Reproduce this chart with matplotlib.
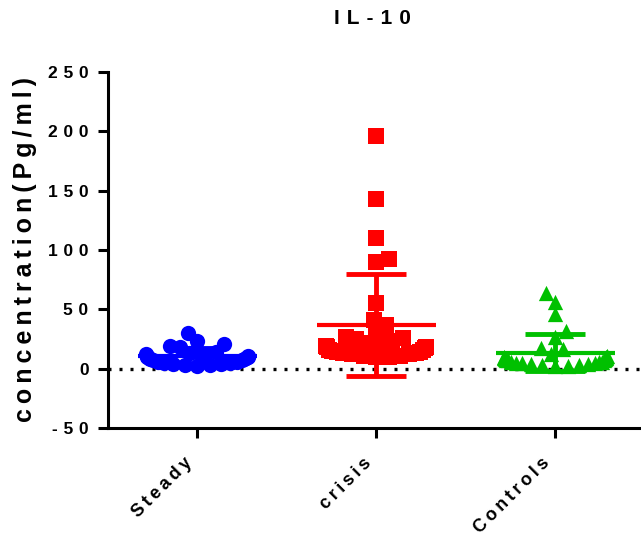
import numpy as np
import matplotlib
matplotlib.use('Agg')
import matplotlib.pyplot as plt
from matplotlib.transforms import ScaledTranslation

plt.rcParams['font.family'] = ['Liberation Sans', 'DejaVu Sans']
plt.rcParams['font.weight'] = 'bold'

groups = ['Steady', 'crisis', 'Controls']

steady = [30, 23, 21, 19, 18.5, 14, 13, 12, 12, 11, 11, 10, 10, 9, 9,
          8, 8, 7, 7, 6, 6, 5, 5, 4, 4, 3, 3, 2.5]
crisis = [196, 143, 110, 92, 90, 55, 41, 37, 30.5, 27, 25.5, 25, 23.5, 21.6,
          20, 19, 18, 18, 17, 16, 16, 15, 14, 14, 13, 13, 12, 12, 11, 11, 10, 10]
controls = [64, 56.6, 46, 32, 26.3, 17.4, 16.5, 12, 11, 10, 10, 9, 9, 8, 8,
            7, 7, 7, 6, 6, 6, 5, 5, 5, 4, 4, 3, 3, 2, 2]

colors = ['#0000FF', '#FF0000', '#00C000']
markers = ['o', 's', '^']

yticks = [-50, 0, 50, 100, 150, 200, 250]

# spacing characters to imitate the wide letter spacing
THIN = '\u2009'
THREE = '\u2004'


def spaced(s, sep):
    return sep.join(list(s))


def swarm(vals, x_px, y_px, min_dist, half_width):
    '''place points side by side, then squeeze wide rows into half_width'''
    vals = np.asarray(vals, dtype=float)
    order = np.argsort(vals)
    placed = []
    offs = np.zeros(len(vals))
    side = 1
    for i in order:
        y = vals[i] * y_px
        cand = [0.0]
        for k in range(1, 400):
            cand += [side * k, -side * k]
        for x in cand:
            if all((x - px) ** 2 + (y - py) ** 2 >= min_dist ** 2 for px, py in placed):
                break
        if x != 0:
            side = -side
        placed.append((x, y))
        offs[i] = x
    offs = half_width * np.tanh(offs / half_width)
    return offs / x_px


fig = plt.figure(figsize=(6.41, 5.35), dpi=100)
ax = fig.add_axes([108 / 641, 107 / 535, 1 - 108 / 641, 356 / 535])
ax.set_xlim(-0.5, 2.48)
ax.set_ylim(-50, 250)

x_px = 179.0
y_px = 356.0 / 300.0

ax.axhline(0, color='black', lw=2.4, ls=(0, (0.9, 2.4)), zorder=1)

for i, data in enumerate([steady, crisis, controls]):
    offs = swarm(data, x_px, y_px, 12.5, 52)
    ax.scatter(i + offs, data, s=11 ** 2, marker=markers[i], color=colors[i],
               linewidths=0, zorder=3)
    m = np.mean(data)
    sd = np.std(data, ddof=1)
    ax.plot([i - 1 / 3, i + 1 / 3], [m, m], color=colors[i], lw=3, zorder=4,
            solid_capstyle='butt')
    ax.plot([i, i], [m - sd, m + sd], color=colors[i], lw=3.5, zorder=4,
            solid_capstyle='butt')
    for v in (m - sd, m + sd):
        ax.plot([i - 1 / 6, i + 1 / 6], [v, v], color=colors[i], lw=3.5, zorder=4,
                solid_capstyle='butt')

for s in ['top', 'right']:
    ax.spines[s].set_visible(False)
for s in ['left', 'bottom']:
    ax.spines[s].set_linewidth(2.2)

ax.set_yticks(yticks)
ax.set_yticklabels([spaced(str(t), THREE) for t in yticks], fontsize=12.5, fontweight='bold')
ax.set_xticks(range(len(groups)))
ax.set_xticklabels([spaced(g, THIN) for g in groups], fontsize=13, fontweight='bold',
                   rotation=45, ha='right', rotation_mode='anchor')
ax.tick_params(axis='both', length=7, width=2.2)
ax.tick_params(axis='x', pad=5)
ax.tick_params(axis='y', pad=7)
shift = ScaledTranslation(-10 / 72, -7 / 72, fig.dpi_scale_trans)
for lbl in ax.get_xticklabels():
    lbl.set_transform(lbl.get_transform() + shift)

ax.set_ylabel(spaced('concentration(Pg/ml)', THIN), fontsize=18, fontweight='bold',
              labelpad=8)
fig.text(372 / 641, 1 - 19 / 535, spaced('IL-10', THREE), fontsize=15,
         fontweight='bold', ha='center', va='center')

fig.savefig('out.png', dpi=100)
